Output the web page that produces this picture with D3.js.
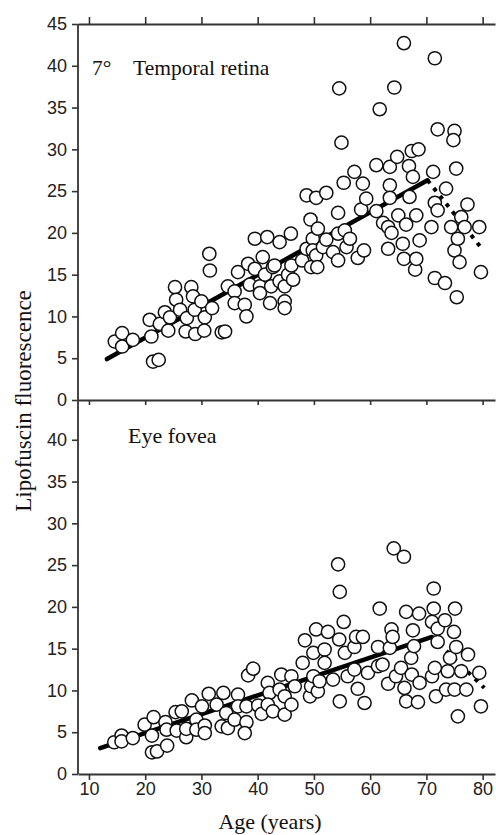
<!DOCTYPE html>
<html>
<head>
<meta charset="utf-8">
<script src="https://cdn.jsdelivr.net/npm/d3@7"></script>
<style>
  body { margin: 0; background: #fff; }
  svg { display: block; }
  .tick text { font-family: "Liberation Sans", Arial, sans-serif; font-size: 18px; fill: #222; }
  .label { font-family: "Liberation Serif", "Times New Roman", serif; fill: #111; }
</style>
</head>
<body>
<svg width="496" height="835"></svg>
<script>
// age (years), lipofuscin fluorescence
const temporalAge = [14.6,15.9,15.9,17.8,20.8,21.1,21.4,22.4,22.6,23.5,24.4,24.1,25.3,25.5,26.2,27.2,27.4,28.2,28.5,28.8,28.9,30.0,30.6,30.5,31.4,31.5,31.9,33.6,
  34.2,34.7,35.9,35.9,36.5,37.7,38.0,38.3,38.6,39.5,39.5,40.4,40.4,40.9,41.3,41.7,42.2,42.4,42.7,43.0,43.9,43.9,44.8,44.8,44.8,45.4,45.9,46.0,46.3,47.9,
  48.7,48.7,49.4,49.5,49.8,49.8,50.4,50.4,50.6,50.7,51.6,52.2,52.2,53.4,54.3,54.3,54.3,54.5,54.9,55.3,55.5,55.8,56.4,57.2,57.8,58.4,58.7,58.9,59.3,
  61.1,61.1,61.7,62.3,63.2,63.2,63.5,63.5,63.5,63.8,64.3,64.8,65.0,65.8,66.0,66.0,66.4,67.0,66.9,67.4,67.6,68.0,68.2,68.2,68.6,68.8,
  70.9,71.2,71.5,71.5,71.5,72.0,72.0,73.3,73.5,74.4,75.0,74.8,75.3,75.0,75.4,75.6,75.9,76.2,76.8,77.3,79.4,79.7];
const temporalVal = [7.0,8.0,6.4,7.2,9.6,7.6,4.6,4.8,9.1,10.5,9.9,8.3,13.5,12.0,10.8,8.2,9.8,13.5,12.4,10.8,7.9,11.8,9.9,8.3,17.5,15.5,11.0,8.1,
  8.2,13.6,13.0,11.6,15.3,11.4,10.0,16.3,13.8,15.7,19.3,13.6,12.8,17.1,15.0,19.5,11.6,13.6,15.9,16.1,18.9,14.2,13.6,11.8,11.0,15.0,19.9,16.1,14.4,16.7,
  18.1,24.5,21.6,15.9,19.3,17.9,24.2,17.3,15.9,20.5,18.3,24.8,19.2,17.7,22.4,16.7,19.9,37.3,30.8,26.0,20.3,18.3,19.3,27.3,17.0,22.8,25.9,17.9,24.1,
  28.1,22.6,34.8,21.2,18.1,20.7,27.9,25.7,24.2,20.0,37.4,29.1,22.1,18.7,42.7,16.9,21.0,24.3,28.0,29.8,26.7,15.6,16.9,22.1,30.0,19.1,
  20.7,27.3,23.6,40.9,14.6,32.4,22.7,14.0,25.3,20.7,32.2,31.1,27.7,17.9,12.3,19.3,16.5,21.9,20.7,23.4,20.7,15.3];

const foveaAge = [14.5,15.8,15.8,17.8,19.9,21.5,21.2,21.2,22.1,23.9,23.6,23.8,25.4,26.5,25.6,27.3,27.3,28.3,29.1,29.1,30.1,30.6,30.6,31.3,32.7,33.9,33.6,34.4,34.7,
  35.9,36.5,36.5,38.0,38.0,37.7,38.3,39.2,40.1,40.7,41.8,42.1,41.8,42.7,43.9,44.2,44.8,44.8,46.0,46.6,46.0,48.0,48.4,49.3,49.5,49.9,49.9,50.4,50.7,51.0,
  51.9,51.9,52.5,53.4,54.3,54.6,54.5,55.3,55.5,54.6,56.0,57.2,57.2,57.5,57.8,58.7,59.0,59.6,61.4,61.7,61.4,62.2,63.2,63.5,63.8,64.0,64.2,64.6,65.5,
  66.0,66.1,66.4,66.4,67.3,67.4,67.6,67.8,68.5,68.7,68.8,71.0,71.0,71.3,71.3,71.5,71.7,72.0,72.0,73.3,73.5,73.8,74.2,74.9,75.0,75.1,75.3,75.6,
  76.2,77.1,77.4,79.4,79.7];
const foveaVal = [3.8,4.6,3.9,4.3,5.9,6.8,4.6,2.6,2.7,3.4,6.2,5.3,7.4,7.5,5.2,4.4,5.4,8.8,6.5,5.3,8.1,5.8,4.9,9.6,8.3,9.7,5.7,7.3,5.5,
  6.5,9.5,8.1,8.1,6.2,4.9,11.8,12.6,8.2,7.2,10.9,9.7,8.3,7.5,10.1,11.9,9.3,7.1,11.7,10.5,8.3,13.3,16.0,9.3,10.5,14.5,11.7,17.3,9.9,11.1,
  14.9,13.3,17.0,11.3,25.1,21.8,16.1,18.2,14.5,8.7,11.7,12.5,15.2,16.4,10.2,16.4,8.5,12.1,15.2,19.8,12.9,13.1,10.8,15.1,17.3,16.4,27.0,11.7,12.7,
  26.0,10.3,19.4,8.7,13.9,11.9,17.2,15.3,8.6,19.2,10.9,18.2,11.7,22.2,19.8,12.7,9.3,17.4,15.8,18.4,10.1,12.3,13.9,17.0,10.1,19.8,15.2,6.9,
  12.3,10.1,14.3,12.1,8.1];

// fitted trend: solid rise, dotted decline
const temporalFit = [[13.2, 4.9], [70.2, 26.3]];
const temporalDrop = [[70.2, 26.3], [80.0, 18.0]];
const foveaFit = [[12.0, 3.1], [71.0, 16.4]];
const foveaDrop = [[71.0, 16.4], [80.3, 10.3]];

const ageTicks = [10, 20, 30, 40, 50, 60, 70, 80];
const ageDomain = [8.05, 82.2];

const svg = d3.select("svg");
const x = d3.scaleLinear().domain(ageDomain).range([78, 495]);

class Panel {
  constructor(top, bottom, yTicks) {
    this.y = d3.scaleLinear().domain([0, 45]).range([bottom, top]);
    this.top = top;
    this.bottom = bottom;
    this.yTicks = yTicks;
    this.g = svg.append("g");
  }

  drawTrend(fit, drop) {
    const line = d3.line().x(d => x(d[0])).y(d => this.y(d[1]));
    this.g.append("path").datum(fit)
      .attr("fill", "none").attr("stroke", "#000")
      .attr("stroke-width", 4.5).attr("stroke-linecap", "round")
      .attr("d", line);
    this.g.append("path").datum(drop)
      .attr("fill", "none").attr("stroke", "#000")
      .attr("stroke-width", 4).attr("stroke-dasharray", "4,6")
      .attr("d", line);
  }

  drawPoints(ages, vals) {
    this.g.append("g").selectAll("circle")
      .data(ages.map((a, i) => [a, vals[i]]))
      .join("circle")
      .attr("cx", d => x(d[0]))
      .attr("cy", d => this.y(d[1]))
      .attr("r", 6.6)
      .attr("fill", "#fff")
      .attr("stroke", "#111")
      .attr("stroke-width", 1.5);
  }

  drawLeftAxis() {
    const ax = this.g.append("g")
      .attr("transform", "translate(78,0)")
      .call(d3.axisLeft(this.y).tickValues(this.yTicks).tickSize(6).tickPadding(5).tickSizeOuter(0));
    ax.select(".domain").remove();
    ax.selectAll(".tick line").attr("stroke", "#333").attr("stroke-width", 1.6);
  }
}

const topPanel = new Panel(24, 400, [0, 5, 10, 15, 20, 25, 30, 35, 40, 45]);
const botPanel = new Panel(398, 774, [0, 5, 10, 15, 20, 25, 30, 35, 40]);

topPanel.drawTrend(temporalFit, temporalDrop);
topPanel.drawPoints(temporalAge, temporalVal);
botPanel.drawTrend(foveaFit, foveaDrop);
botPanel.drawPoints(foveaAge, foveaVal);

topPanel.drawLeftAxis();
botPanel.drawLeftAxis();

// horizontal axes: top edge (ticks up), shared middle (ticks down), bottom with labels
function hAxis(yPos, axisFn, labels, size) {
  const ax = svg.append("g")
    .attr("transform", "translate(0," + yPos + ")")
    .call(axisFn(x).tickValues(ageTicks).tickSize(size).tickPadding(2).tickSizeOuter(0)
      .tickFormat(labels ? d3.format("d") : ""));
  ax.select(".domain").attr("stroke", "#333").attr("stroke-width", 1.8);
  ax.selectAll(".tick line").attr("stroke", "#333").attr("stroke-width", 1.6);
  return ax;
}
hAxis(24, d3.axisTop, false, 7);
hAxis(400, d3.axisBottom, false, 5);
hAxis(774, d3.axisBottom, true, 6);

// left spine
svg.append("line")
  .attr("x1", 78).attr("x2", 78).attr("y1", 24).attr("y2", 774)
  .attr("stroke", "#333").attr("stroke-width", 1.8);

// panel titles
svg.append("text").attr("class", "label").attr("x", 92).attr("y", 75)
  .attr("font-size", 21.5).text("7°");
svg.append("text").attr("class", "label").attr("x", 133).attr("y", 75)
  .attr("font-size", 21.5).text("Temporal retina");
svg.append("text").attr("class", "label").attr("x", 128).attr("y", 443)
  .attr("font-size", 22).text("Eye fovea");

// axis titles
svg.append("text").attr("class", "label")
  .attr("transform", "translate(31,401) rotate(-90)")
  .attr("text-anchor", "middle").attr("font-size", 23)
  .text("Lipofuscin fluorescence");
svg.append("text").attr("class", "label")
  .attr("x", 270).attr("y", 829)
  .attr("text-anchor", "middle").attr("font-size", 22)
  .text("Age (years)");
</script>
</body>
</html>
